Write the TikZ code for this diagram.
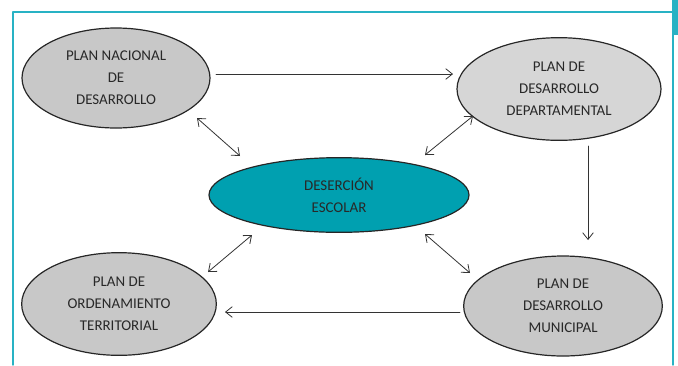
\documentclass[tikz,border=0pt]{standalone}
\usepackage{fontspec}
\setmainfont{Carlito}
\usepackage{tikz}
\usetikzlibrary{arrows.meta, calc, shapes, positioning}
\usepackage{xcolor}
\definecolor{framecyan}{RGB}{40, 178, 196}
\definecolor{planteal}{RGB}{0, 160, 176}
\definecolor{plangray}{RGB}{200, 200, 200}
\definecolor{planlight}{RGB}{214, 214, 214}
\definecolor{plantext}{RGB}{40, 40, 40}

\tikzset{
    plan/.style={ellipse, draw=black!85, line width=0.9pt, fill=plangray, inner sep=0pt,
        text=plantext, align=center, font=\fontsize{11.2}{16.5}\selectfont},
    link/.style={-{Straight Barb[length=5pt,width=8pt]}, black!80, line width=0.6pt},
    both/.style={{Straight Barb[length=5pt,width=8pt]}-{Straight Barb[length=5pt,width=8pt]}, black!80, line width=0.6pt}
}

\begin{document}
\begin{tikzpicture}[line cap=round, line join=round, x=0.75pt, y=-0.75pt]
    	\useasboundingbox (0,0) rectangle (678,365);
    	% marco
		\draw [-,framecyan,line width=1pt] (13,365)--(13,12)--(673,12)--(673,365);
		\fill [framecyan] (672,0) rectangle (678,35);

    	\node [plan, minimum width=141pt, minimum height=75pt] (PND) at (116,78) {PLAN NACIONAL\\DE\\DESARROLLO};
    	\node [plan, fill=planlight, minimum width=153pt, minimum height=77pt] (PDD) at (559,89) {PLAN DE\\DESARROLLO\\DEPARTAMENTAL};
    	\node [plan, fill=planteal, minimum width=195pt, minimum height=56pt] (DES) at (339,195) {DESERCIÓN\\ESCOLAR};
    	\node [plan, minimum width=146pt, minimum height=77pt] (POT) at (119,304) {PLAN DE\\ORDENAMIENTO\\TERRITORIAL};
    	\node [plan, minimum width=149pt, minimum height=75pt] (PDM) at (563,306) {PLAN DE\\DESARROLLO\\MUNICIPAL};

    	\coordinate (a1) at (216,74);
    	\coordinate (a2) at (453,74);
    	\coordinate (b1) at (588,146);
    	\coordinate (b2) at (588,240);
    	\coordinate (c1) at (460,312);
    	\coordinate (c2) at (225,312);

		\draw [link] (a1)--(a2);
		\draw [link] (b1)--(b2);
		\draw [link] (c1)--(c2);

		\draw [both] (197,118)--(240,156);
		\draw [both] (473,116)--(425,155);
		\draw [both] (208,272)--(252,235);
		\draw [both] (470,273)--(425,234);
    \end{tikzpicture}
\end{document}
